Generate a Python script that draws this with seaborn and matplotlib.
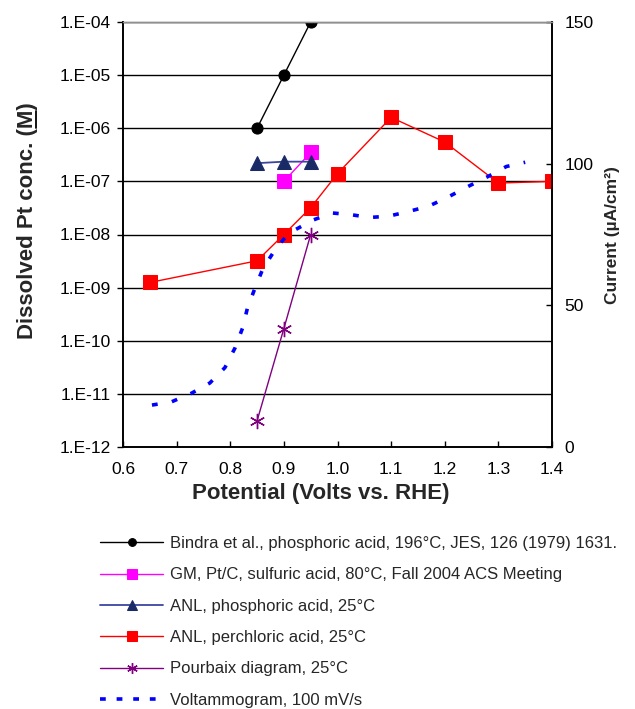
import numpy as np
import matplotlib
matplotlib.use("Agg")
import matplotlib.pyplot as plt
from matplotlib.lines import Line2D
from matplotlib.ticker import FixedLocator, FuncFormatter
import seaborn as sns

# ----------- data -----------
bindra_x = [0.85, 0.90, 0.95]
bindra_y = [1e-6, 1e-5, 1e-4]

gm_x = [0.90, 0.95]
gm_y = [1.0e-7, 3.5e-7]

anl_phos_x = [0.85, 0.90, 0.95]
anl_phos_y = [2.2e-7, 2.35e-7, 2.35e-7]

anl_perc_x = [0.65, 0.85, 0.90, 0.95, 1.00, 1.10, 1.20, 1.30, 1.40]
anl_perc_y = [1.25e-9, 3.2e-9, 1.0e-8, 3.2e-8, 1.4e-7, 1.6e-6, 5.5e-7, 9.3e-8, 1.0e-7]

pourbaix_x = [0.85, 0.90, 0.95]
pourbaix_y = [3.1e-12, 1.7e-10, 1.0e-8]

volt_x = [0.654, 0.69, 0.728, 0.762, 0.79, 0.809, 0.823, 0.832, 0.846, 0.861, 0.887, 0.91,
          0.953, 0.99, 1.025, 1.06, 1.096, 1.13, 1.17, 1.204, 1.244, 1.28, 1.315, 1.35]
volt_y = [14.8, 15.9, 19.0, 22.6, 28.0, 35.0, 42.0, 49.0, 56.0, 63.0, 70.6, 75.5,
          80.0, 82.6, 82.0, 81.0, 81.5, 83.0, 85.0, 88.0, 92.0, 95.4, 99.0, 100.5]

labels = [
    "Bindra et al., phosphoric acid, 196°C, JES, 126 (1979) 1631.",
    "GM, Pt/C, sulfuric acid, 80°C, Fall 2004 ACS Meeting",
    "ANL, phosphoric acid, 25°C",
    "ANL, perchloric acid, 25°C",
    "Pourbaix diagram, 25°C",
    "Voltammogram, 100 mV/s",
]
x_ticks = [0.6, 0.7, 0.8, 0.9, 1.0, 1.1, 1.2, 1.3, 1.4]
y_decades = list(range(-12, -3))
current_ticks = [0, 50, 100, 150]

sns.set_style("ticks")
plt.rcParams["font.family"] = ["Liberation Sans", "DejaVu Sans"]

fig = plt.figure(figsize=(6.35, 7.09), dpi=100)
ax = fig.add_axes([123 / 635, 1 - 447 / 709, (552 - 123) / 635, (447 - 22) / 709])
ax2 = ax.twinx()

# gridlines first so the series sit on top
ax.set_yscale("log")
ax.set_ylim(1e-12, 1e-4)
ax.set_xlim(0.6, 1.4)
for k in y_decades[1:]:
    ax.axhline(10.0 ** k, color="black", lw=1.0, zorder=1)

sns.lineplot(x=bindra_x, y=bindra_y, ax=ax, color="black", lw=1.0, marker="o", ms=8,
             mec="black", mfc="black", label=labels[0], zorder=5)
sns.lineplot(x=gm_x, y=gm_y, ax=ax, color="#ff00ff", lw=1.0, marker="s", ms=9.5,
             mec="#ff00ff", mfc="#ff00ff", label=labels[1], zorder=4)
sns.lineplot(x=anl_phos_x, y=anl_phos_y, ax=ax, color="#3a46a0", lw=1.3, marker="^", ms=10,
             mec="#1a2a66", mfc="#1a2a66", label=labels[2], zorder=5)
sns.lineplot(x=anl_perc_x, y=anl_perc_y, ax=ax, color="#ff0000", lw=1.0, marker="s", ms=9.5,
             mec="#ff0000", mfc="#ff0000", label=labels[3], zorder=4)
sns.lineplot(x=pourbaix_x, y=pourbaix_y, ax=ax, color="#800080", lw=1.0, marker=(6, 2, 0), ms=11,
             mec="#800080", mew=1.0, label=labels[4], zorder=4)

sns.lineplot(x=volt_x, y=volt_y, ax=ax2, color="#0000ff", lw=2.6, dashes=False, label=labels[5], zorder=3)
vline = ax2.get_lines()[-1]
vline.set_linestyle((0, (1.6, 4.0)))
vline.set_dash_capstyle("butt")

ax2.set_ylim(0, 150)
ax2.yaxis.set_major_locator(FixedLocator(current_ticks))
ax.xaxis.set_major_locator(FixedLocator(x_ticks))
ax.xaxis.set_major_formatter(FuncFormatter(lambda v, p: f"{v:.1f}"))
ax.yaxis.set_major_locator(FixedLocator([10.0 ** k for k in y_decades]))
ax.yaxis.set_minor_locator(FixedLocator([]))
ax.yaxis.set_major_formatter(FuncFormatter(lambda v, p: f"1.E-{int(round(-np.log10(v))):02d}"))

ax.tick_params(axis="y", direction="out", length=4, width=1, pad=5, labelsize=12.5, colors="black")
ax.tick_params(axis="x", direction="in", length=4, width=1, pad=11, labelsize=12.5, colors="black")
ax2.tick_params(axis="y", direction="in", length=4, width=1, pad=9, labelsize=12.5, colors="black")
ax.set_xlabel("")
ax.set_ylabel("")
ax2.set_ylabel("")

for a in (ax, ax2):
    for s in ("left", "right", "bottom"):
        a.spines[s].set_color("black")
        a.spines[s].set_linewidth(1.2)
    a.spines["top"].set_color("#909090")
    a.spines["top"].set_linewidth(1.0)

# legend below the axes
h1, l1 = ax.get_legend_handles_labels()
h2, l2 = ax2.get_legend_handles_labels()
ax.get_legend().remove()
ax2.get_legend().remove()
leg = fig.legend(h1 + h2, l1 + l2, loc="upper left", bbox_to_anchor=(100 / 635, 1 - 536 / 709),
                 frameon=False, fontsize=12, handlelength=3.8, handletextpad=0.42,
                 labelspacing=0.98, borderpad=0, borderaxespad=0, markerscale=0.7)
leg.get_lines()[-1].set_linestyle((0, (1.6, 3.0)))

# axis titles
fig.text(321 / 635, 1 - 494 / 709, "Potential (Volts vs. RHE)", ha="center", va="center",
         fontsize=16, fontweight="bold")
fig.text(612 / 635, 1 - 235 / 709, "Current (µA/cm²)", ha="center", va="center",
         rotation=90, fontsize=12.5, fontweight="bold")
ylab_kw = dict(fontsize=16, fontweight="bold")
ylab = fig.text(28 / 635, 1 - 221 / 709, "Dissolved Pt conc. (M)", ha="center", va="center",
                rotation=90, **ylab_kw)

# underline under the M of the left axis title
fig.canvas.draw()
r = fig.canvas.get_renderer()
bb = ylab.get_window_extent(r)
tmp = fig.text(0, 0, "Dissolved Pt conc. (", **ylab_kw)
w_pre = tmp.get_window_extent(r).width
tmp.remove()
tmp = fig.text(0, 0, "M", **ylab_kw)
w_m = tmp.get_window_extent(r).width
tmp.remove()
ux = bb.x1 - 0.12 * 16 * 100 / 72
fig.add_artist(Line2D([ux / fig.bbox.width] * 2,
                      [(bb.y0 + w_pre + 1) / fig.bbox.height, (bb.y0 + w_pre + w_m - 1) / fig.bbox.height],
                      color="black", lw=1.3))

fig.savefig("out.png", dpi=100)
